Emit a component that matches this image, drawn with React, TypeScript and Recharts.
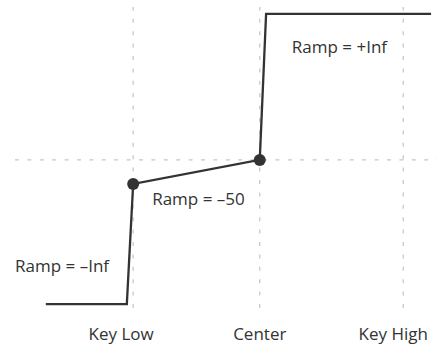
import {
  ComposedChart,
  Line,
  ReferenceDot,
  ReferenceLine,
  XAxis,
  YAxis,
} from "recharts";

// key positions on the keyboard axis (0–100 scale)
const keyTicks = [28, 58, 92];
const keyLabels = ["Key Low", "Center", "Key High"];

// velocity curve, x = key position, y = level (0–100)
const curveX = [7.3, 26.5, 28, 58, 59.5, 98.6];
const curveY = [1.3, 1.3, 41.2, 49.2, 97.7, 97.7];

// pivot points drawn as dots
const pivotX = [28, 58];
const pivotY = [41.2, 49.2];

const centerLevel = 49.2;

// ramp annotations
const noteText = ["Ramp = +Inf", "Ramp = \u201350", "Ramp = \u2013Inf"];
const noteX = [65.6, 32.5, 0];
const noteY = [86.7, 36.2, 14];

const curve = curveX.map((x, i) => ({ x, y: curveY[i] }));

const FONT = "'Open Sans', sans-serif";
const INK = "#333";
const GRID = "#c8c8c8";

function KeyTick(props: any) {
  const { x, y, payload, index } = props;
  // labels sit a bit left of their gridlines in the original
  const shift = [-12, 0, -10][index] ?? 0;
  return (
    <text
      x={x + shift}
      y={y}
      dy={24}
      textAnchor="middle"
      fontFamily={FONT}
      fontSize={17}
      fill={INK}
    >
      {keyLabels[keyTicks.indexOf(payload.value)]}
    </text>
  );
}

function Note(props: any) {
  const { cx, cy, text } = props;
  return (
    <text
      x={cx}
      y={cy}
      dy={6}
      textAnchor="start"
      fontFamily={FONT}
      fontSize={17}
      fill={INK}
    >
      {text}
    </text>
  );
}

export default function App() {
  return (
    <div style={{ position: "absolute", left: 0, top: 0, background: "#fff" }}>
      <ComposedChart
        width={437}
        height={345}
        data={curve}
        margin={{ top: 7, right: 0, left: 15, bottom: 0 }}
      >
        <XAxis
          dataKey="x"
          type="number"
          domain={[0, 100]}
          ticks={keyTicks}
          axisLine={false}
          tickLine={false}
          height={37}
          tick={<KeyTick />}
        />
        <YAxis type="number" domain={[0, 100]} hide />
        {keyTicks.map((k) => (
          <ReferenceLine
            key={k}
            x={k}
            stroke={GRID}
            strokeWidth={1.3}
            strokeDasharray="4 8.4"
          />
        ))}
        <ReferenceLine
          y={centerLevel}
          stroke={GRID}
          strokeWidth={1.3}
          strokeDasharray="4 8.4"
        />
        <Line
          dataKey="y"
          type="linear"
          stroke={INK}
          strokeWidth={2.3}
          dot={false}
          isAnimationActive={false}
        />
        {pivotX.map((px, i) => (
          <ReferenceDot
            key={px}
            x={px}
            y={pivotY[i]}
            r={6}
            fill={INK}
            stroke="none"
          />
        ))}
        {noteText.map((t, i) => (
          <ReferenceDot
            key={t}
            x={noteX[i]}
            y={noteY[i]}
            r={0}
            shape={<Note text={t} />}
          />
        ))}
      </ComposedChart>
    </div>
  );
}
